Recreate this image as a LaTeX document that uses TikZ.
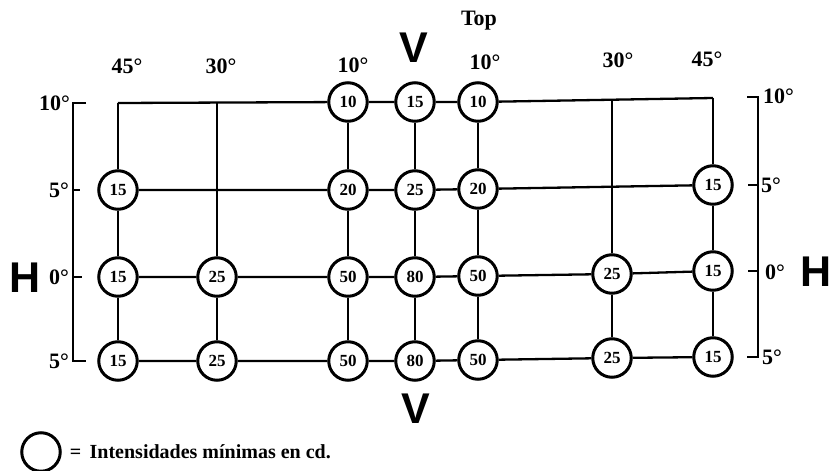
\documentclass[tikz,border=0pt]{standalone}
\usepackage{fontspec}
\setmainfont{Liberation Serif}
\newfontfamily\headfont{Liberation Sans}
\usetikzlibrary{positioning}
\tikzset{
    lamp/.style = {
        draw,
        circle,
        line width=3pt,
        minimum size=38.5pt,
        inner sep=0pt,
        fill=white,
        font=\bfseries\fontsize{17}{17}\selectfont,
        },
    wire/.style = {
        line width=2.3pt,
        },
    scale bar/.style = {
        line width=2.5pt,
        },
    angle/.style = {
        inner sep=0pt,
        font=\bfseries\fontsize{22}{22}\selectfont,
        },
    big letter/.style = {
        inner sep=0pt,
        font=\headfont\bfseries\fontsize{43}{43}\selectfont,
        },
}

\begin{document}
\begin{tikzpicture}[x=1pt,y=-1pt]
            \useasboundingbox (0,0) rectangle (831,471);

            % corners of the top row
            \coordinate (a1) at (118,103);
            \coordinate (b1) at (217,103);
            \coordinate (f1) at (612,100);
            \coordinate (g1) at (713,98);

            % minimum intensities
            \node[lamp] (c1) at (348,102) {10};
            \node[lamp] (d1) at (415,102) {15};
            \node[lamp] (e1) at (478,102) {10};

            \node[lamp] (a2) at (118,190) {15};
            \node[lamp] (c2) at (348,190) {20};
            \node[lamp] (d2) at (415,190) {25};
            \node[lamp] (e2) at (478,189) {20};
            \node[lamp] (g2) at (713,185) {15};

            \node[lamp] (a3) at (118,277) {15};
            \node[lamp] (b3) at (217,277) {25};
            \node[lamp] (c3) at (348,277) {50};
            \node[lamp] (d3) at (415,277) {80};
            \node[lamp] (e3) at (478,276) {50};
            \node[lamp] (f3) at (612,274) {25};
            \node[lamp] (g3) at (713,271) {15};

            \node[lamp] (a4) at (118,361) {15};
            \node[lamp] (b4) at (217,361) {25};
            \node[lamp] (c4) at (348,361) {50};
            \node[lamp] (d4) at (415,361) {80};
            \node[lamp] (e4) at (478,360) {50};
            \node[lamp] (f4) at (612,358) {25};
            \node[lamp] (g4) at (713,357) {15};

            % grid
            \draw[wire] (a1) -- (c1) -- (d1) -- (e1) -- (g1);
            \draw[wire] (a2) -- (c2) -- (d2) -- (e2) -- (g2);
            \foreach \r in {3,4}
                \draw[wire] (a\r) -- (b\r) -- (c\r) -- (d\r) -- (e\r) -- (f\r) -- (g\r);
            \foreach \c in {a,c,d,e,g}
                \draw[wire] (\c1) -- (\c2) -- (\c3) -- (\c4);
            \foreach \c in {b,f}
                \draw[wire] (\c1) -- (\c3) -- (\c4);

            % vertical scales
            \draw[scale bar] (86,103) -- (73,103) -- (73,361) -- (86,361);
            \draw[scale bar] (73,190) -- (80,190);
            \draw[scale bar] (73,277) -- (82,277);
            \draw[scale bar] (747,97) -- (758,97) -- (758,357) -- (747,357);
            \draw[scale bar] (758,185) -- (748,185);
            \draw[scale bar] (758,271) -- (748,271);

            \node[angle, anchor=east] (l10) at (70,103) {10°};
            \node[angle, anchor=east] (l5) at (69,190) {5°};
            \node[angle, anchor=east] (l0) at (69,277) {0°};
            \node[angle, anchor=east] (l-5) at (69,361) {5°};
            \node[angle, anchor=west] (r10) at (763,96) {10°};
            \node[angle, anchor=west] (r5) at (761,185) {5°};
            \node[angle, anchor=west] (r0) at (765,272) {0°};
            \node[angle, anchor=west] (r-5) at (762,357) {5°};

            % horizontal angles
            \node[angle] (t45l) at (127,66) {45°};
            \node[angle] (t30l) at (221,66) {30°};
            \node[angle] (t10l) at (353,65) {10°};
            \node[angle] (t10r) at (485,62) {10°};
            \node[angle] (t30r) at (618,60) {30°};
            \node[angle] (t45r) at (707,59) {45°};
            \node[angle] (top) at (479,21) {Top};

            \node[big letter] (vtop) at (414,48) {V};
            \node[big letter] (vbot) at (416,409) {V};
            \node[big letter] (hleft) at (25,278) {H};
            \node[big letter] (hright) at (816,272) {H};

            % legend
            \node[lamp] (key) at (41,452) {};
            \node[right=8pt of key, inner sep=0pt, font=\bfseries\fontsize{20}{20}\selectfont] (keytext) {=\, Intensidades mínimas en cd.};
        \end{tikzpicture}
\end{document}
